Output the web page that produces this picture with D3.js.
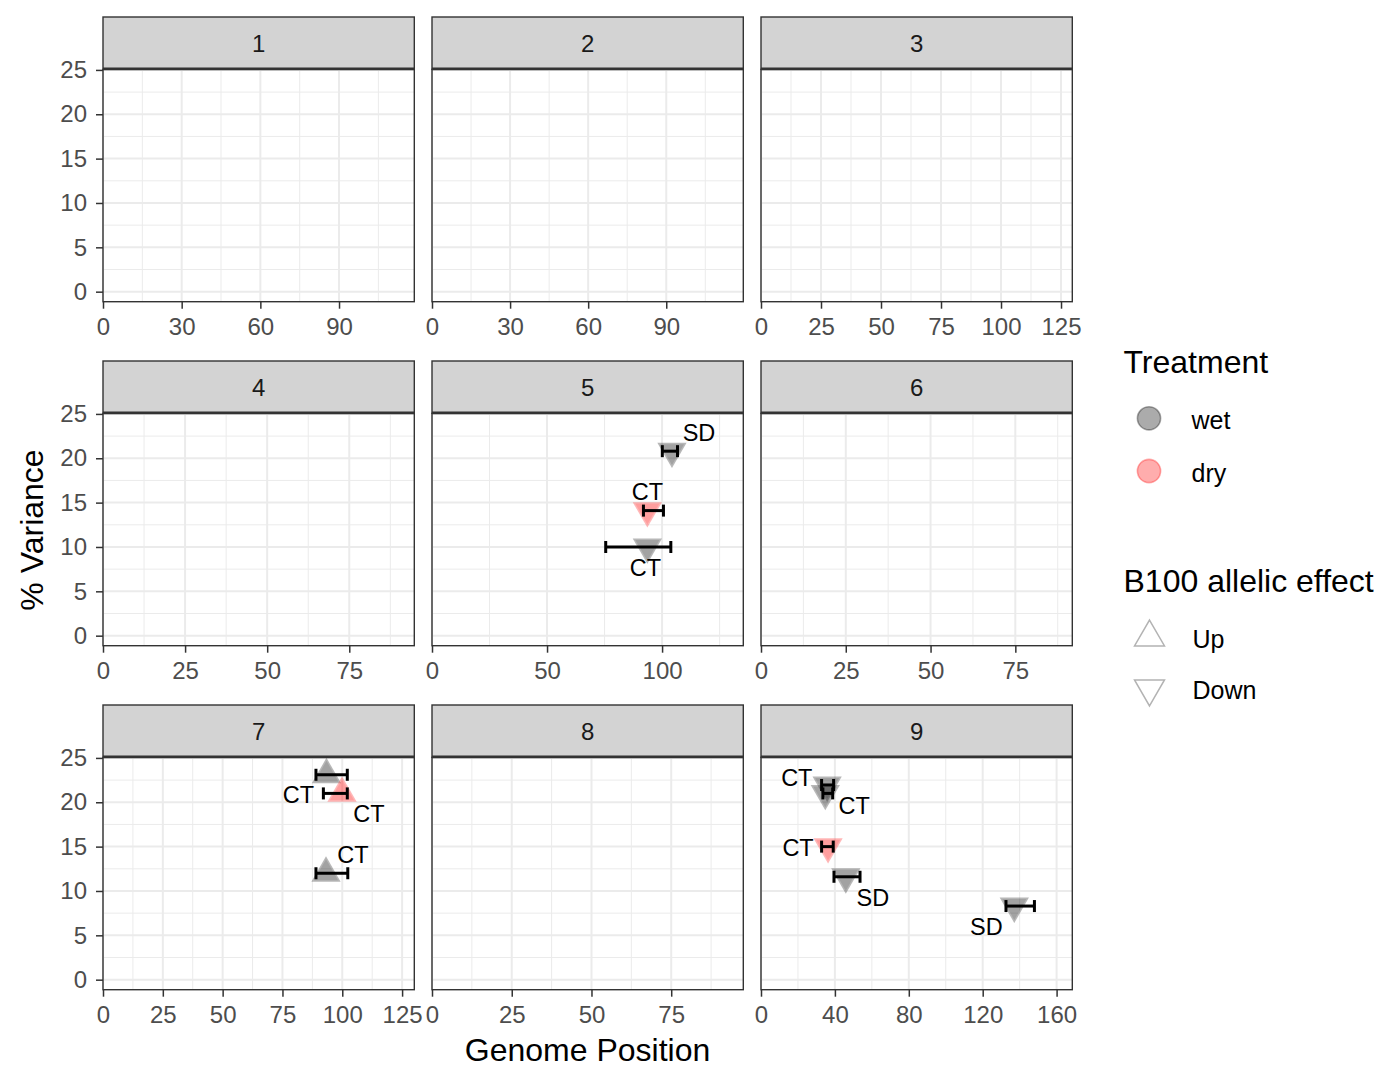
<!DOCTYPE html>
<html>
<head>
<meta charset="utf-8">
<script src="https://cdn.jsdelivr.net/npm/d3@7"></script>
<style>
  body { margin: 0; background: #fff; }
  svg { font-family: "Liberation Sans", Arial, Helvetica, sans-serif; }
</style>
</head>
<body>
<script>
// facet panels: one per chromosome, free x scale
var chromosomes = [1, 2, 3, 4, 5, 6, 7, 8, 9];
var chromLength = [118.7, 119.6, 129.7, 94.8, 135.3, 91.8, 130.1, 97.6, 168.5];
var xTicks = [
  [0, 30, 60, 90],
  [0, 30, 60, 90],
  [0, 25, 50, 75, 100, 125],
  [0, 25, 50, 75],
  [0, 50, 100],
  [0, 25, 50, 75],
  [0, 25, 50, 75, 100, 125],
  [0, 25, 50, 75],
  [0, 40, 80, 120, 160]
];
var yTicks = [0, 5, 10, 15, 20, 25];
var yLimits = [-1.13, 25.07];

// QTL table
var qtlChrom   = [5, 5, 5, 7, 7, 7, 9, 9, 9, 9, 9];
var qtlPos     = [104.3, 93.6, 93.6, 93.4, 99.9, 93.2, 35.8, 34.8, 36.3, 45.9, 137.1];
var qtlVar     = [20.8, 14.1, 10.0, 23.1, 21.0, 12.0, 21.95, 21.0, 15.0, 11.6, 8.3];
var qtlLow     = [100.1, 91.9, 75.5, 89.0, 92.1, 89.0, 32.8, 33.5, 32.8, 39.5, 132.6];
var qtlHigh    = [106.7, 100.6, 103.8, 102.1, 102.1, 102.3, 39.3, 38.8, 39.1, 53.6, 148.0];
var qtlTreat   = ["wet", "dry", "wet", "wet", "dry", "wet", "wet", "wet", "dry", "wet", "wet"];
var qtlEffect  = ["Down", "Down", "Down", "Up", "Up", "Up", "Down", "Down", "Down", "Down", "Down"];
var qtlTrait   = ["SD", "CT", "CT", "CT", "CT", "CT", "CT", "CT", "CT", "SD", "SD"];
var labelSide  = ["ne", "n", "s", "sw", "se", "ne", "se", "nw", "w", "se", "sw"];

var treatments = ["wet", "dry"];
var effects = ["Up", "Down"];

var width = 1392, height = 1068;
var colLeft = [103, 432, 761], panelW = 311.3;
var rowTop = [17, 361, 705], stripH = 52.3, plotH = 232.4;

// colours: core / rim inside a semi transparent group
var treatCore = {wet: "#000000", dry: "#ff1010"};
var treatRim = {wet: "#3a3a3a", dry: "#ff4d4d"};
var treatAlpha = {wet: 0.36, dry: 0.40};
var legendFill = {wet: "rgba(0,0,0,0.33)", dry: "rgba(255,0,0,0.32)"};

// label offsets in px (repel output)
var sideOffset = {
  n: [0, -11], s: [-2, 29], ne: [27, -10], se: [27, 29],
  sw: [-28, 28.5], nw: [-28.5, -7], w: [-30, 9]
};

var svg = d3.select("body").append("svg")
  .attr("width", width)
  .attr("height", height);

svg.append("rect").attr("width", width).attr("height", height).attr("fill", "#fff");

function triPath(cx, cy, r, up) {
  var hw = r * Math.sqrt(3) / 2;
  if (up) {
    return "M" + cx + "," + (cy - r) + "L" + (cx + hw) + "," + (cy + r / 2) + "L" + (cx - hw) + "," + (cy + r / 2) + "Z";
  }
  return "M" + cx + "," + (cy + r) + "L" + (cx + hw) + "," + (cy - r / 2) + "L" + (cx - hw) + "," + (cy - r / 2) + "Z";
}

var qtl = qtlChrom.map(function(c, i) {
  return {chrom: c, pos: qtlPos[i], v: qtlVar[i], lo: qtlLow[i], hi: qtlHigh[i],
    treat: qtlTreat[i], effect: qtlEffect[i], trait: qtlTrait[i], side: labelSide[i]};
});

chromosomes.forEach(function(chrom, i) {
  var col = i % 3, row = Math.floor(i / 3);
  var left = colLeft[col], top = rowTop[row] + stripH;

  var x = d3.scaleLinear().domain([0, chromLength[i]]).range([left, left + panelW]);
  var y = d3.scaleLinear().domain(yLimits).range([top + plotH, top]);

  var g = svg.append("g").attr("class", "panel");

  // grid: minor first then major
  var ticks = xTicks[i], step = ticks[1] - ticks[0];
  var xMinor = [];
  for (var k = 0; k <= ticks.length; k++) {
    var m = ticks[0] + step * k + step / 2;
    if (m < chromLength[i]) xMinor.push(m);
  }
  var yMinor = [2.5, 7.5, 12.5, 17.5, 22.5];

  g.selectAll(".minorX").data(xMinor).enter().append("line")
    .attr("x1", function(d) { return x(d); }).attr("x2", function(d) { return x(d); })
    .attr("y1", top).attr("y2", top + plotH)
    .attr("stroke", "#ebebeb").attr("stroke-width", 1);
  g.selectAll(".minorY").data(yMinor).enter().append("line")
    .attr("x1", left).attr("x2", left + panelW)
    .attr("y1", function(d) { return y(d); }).attr("y2", function(d) { return y(d); })
    .attr("stroke", "#ebebeb").attr("stroke-width", 1);
  g.selectAll(".majorX").data(ticks).enter().append("line")
    .attr("x1", function(d) { return x(d); }).attr("x2", function(d) { return x(d); })
    .attr("y1", top).attr("y2", top + plotH)
    .attr("stroke", "#ebebeb").attr("stroke-width", 2);
  g.selectAll(".majorY").data(yTicks).enter().append("line")
    .attr("x1", left).attr("x2", left + panelW)
    .attr("y1", function(d) { return y(d); }).attr("y2", function(d) { return y(d); })
    .attr("stroke", "#ebebeb").attr("stroke-width", 2);

  // points
  var pts = qtl.filter(function(d) { return d.chrom == chrom; });
  var r = 16.9;
  pts.forEach(function(d) {
    var pg = g.append("g").attr("opacity", treatAlpha[d.treat]);
    var cx = x(d.pos), cy = y(d.v), up = d.effect == "Up";
    pg.append("path").attr("d", triPath(cx, cy, r, up)).attr("fill", treatRim[d.treat]);
    pg.append("path").attr("d", triPath(cx, cy, r - 3, up)).attr("fill", treatCore[d.treat]);
  });

  // error bars
  var eb = g.selectAll(".errbar").data(pts).enter().append("g").attr("class", "errbar")
    .attr("stroke", "#000").attr("stroke-width", 3);
  eb.append("line")
    .attr("x1", function(d) { return x(d.lo); }).attr("x2", function(d) { return x(d.hi); })
    .attr("y1", function(d) { return y(d.v); }).attr("y2", function(d) { return y(d.v); });
  eb.append("line")
    .attr("x1", function(d) { return x(d.lo); }).attr("x2", function(d) { return x(d.lo); })
    .attr("y1", function(d) { return y(d.v) - 6; }).attr("y2", function(d) { return y(d.v) + 6; });
  eb.append("line")
    .attr("x1", function(d) { return x(d.hi); }).attr("x2", function(d) { return x(d.hi); })
    .attr("y1", function(d) { return y(d.v) - 6; }).attr("y2", function(d) { return y(d.v) + 6; });

  // labels
  g.selectAll(".lab").data(pts).enter().append("text")
    .attr("x", function(d) { return x(d.pos) + sideOffset[d.side][0]; })
    .attr("y", function(d) { return y(d.v) + sideOffset[d.side][1]; })
    .attr("text-anchor", "middle")
    .attr("font-size", "23.5px")
    .attr("fill", "#000")
    .text(function(d) { return d.trait; });

  // panel border
  g.append("rect").attr("x", left).attr("y", top).attr("width", panelW).attr("height", plotH)
    .attr("fill", "none").attr("stroke", "#333").attr("stroke-width", 1.4);

  // strip
  g.append("rect").attr("x", left).attr("y", rowTop[row]).attr("width", panelW).attr("height", stripH)
    .attr("fill", "#d3d3d3").attr("stroke", "#333").attr("stroke-width", 1.4);
  g.append("line").attr("x1", left).attr("x2", left + panelW)
    .attr("y1", top - 0.4).attr("y2", top - 0.4)
    .attr("stroke", "#333").attr("stroke-width", 2.6);
  g.append("text").attr("x", left + panelW / 2).attr("y", rowTop[row] + stripH / 2)
    .attr("dy", "0.35em").attr("text-anchor", "middle")
    .attr("font-size", "24px").attr("fill", "#1a1a1a")
    .text(chrom);

  // x axis
  var xa = svg.append("g").attr("transform", "translate(0," + (top + plotH) + ")")
    .call(d3.axisBottom(x).tickValues(ticks).tickSize(7).tickPadding(9).tickFormat(d3.format("d")));
  xa.select(".domain").remove();
  xa.selectAll(".tick line").attr("stroke", "#333").attr("stroke-width", 1.5);
  xa.selectAll(".tick text").attr("fill", "#4d4d4d").attr("font-size", "24px")
    .attr("font-family", "Liberation Sans, Arial, Helvetica, sans-serif");

  // y axis on first column only
  if (col == 0) {
    var ya = svg.append("g").attr("transform", "translate(" + left + ",0)")
      .call(d3.axisLeft(y).tickValues(yTicks).tickSize(7).tickPadding(9));
    ya.select(".domain").remove();
    ya.selectAll(".tick line").attr("stroke", "#333").attr("stroke-width", 1.5);
    ya.selectAll(".tick text").attr("fill", "#4d4d4d").attr("font-size", "24px")
      .attr("font-family", "Liberation Sans, Arial, Helvetica, sans-serif");
  }
});

// axis titles
svg.append("text").attr("x", 587.5).attr("y", 1061).attr("text-anchor", "middle")
  .attr("font-size", "32px").attr("fill", "#000").text("Genome Position");
svg.append("text").attr("transform", "translate(43,530) rotate(-90)").attr("text-anchor", "middle")
  .attr("font-size", "32px").attr("fill", "#000").text("% Variance");

// legends
var lg = svg.append("g");
lg.append("text").attr("x", 1123.5).attr("y", 372.5).attr("font-size", "32px").text("Treatment");
lg.selectAll(".tkey").data(treatments).enter().append("circle")
  .attr("cx", 1149).attr("cy", function(d, i) { return 418.3 + i * 52.7; })
  .attr("r", 11.6)
  .attr("fill", function(d) { return legendFill[d]; })
  .attr("stroke", function(d) { return legendFill[d]; })
  .attr("stroke-width", 1.6);
lg.selectAll(".tlab").data(treatments).enter().append("text")
  .attr("x", 1191.5).attr("y", function(d, i) { return 429.3 + i * 52.7; })
  .attr("font-size", "25px").text(function(d) { return d; });

lg.append("text").attr("x", 1123.5).attr("y", 591.7).attr("font-size", "32px").text("B100 allelic effect");
lg.selectAll(".ekey").data(effects).enter().append("path")
  .attr("d", function(d, i) { return triPath(1149.5, d == "Up" ? 637.3 : 688.6, 17.3, d == "Up"); })
  .attr("fill", "none").attr("stroke", "#b3b3b3").attr("stroke-width", 1.5);
lg.selectAll(".elab").data(effects).enter().append("text")
  .attr("x", 1192.5).attr("y", function(d, i) { return 648.3 + i * 51; })
  .attr("font-size", "25px").text(function(d) { return d; });
</script>
</body>
</html>
